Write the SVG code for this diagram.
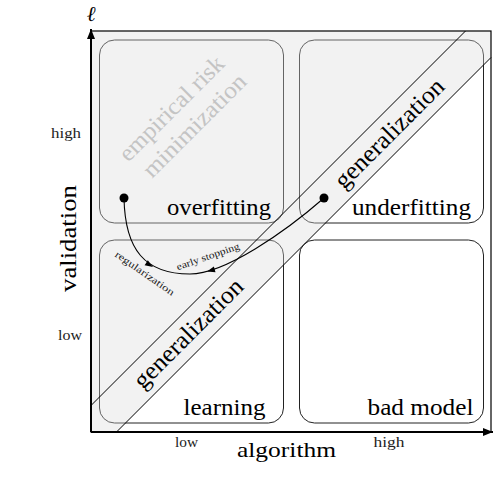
<svg xmlns="http://www.w3.org/2000/svg" xmlns:xlink="http://www.w3.org/1999/xlink" width="502" height="495" viewBox="0 0 502 495">
<style>
.box{fill:none;stroke:#222;stroke-width:1}
.lbl{font-family:"Liberation Serif","DejaVu Serif",serif;fill:#000}
.big{font-size:23px}
.gen{font-size:25px}
.erm{font-size:24px;fill:#c4c4c4}
.tick{font-size:14px;fill:#222}
.small{font-size:10px;fill:#222}
.diag{stroke:#000;stroke-width:1}
.curve{fill:none;stroke:#000;stroke-width:1.1}
</style>
<defs>
<marker id="axarrow" viewBox="0 0 10 8" refX="10" refY="4" markerWidth="10" markerHeight="8" markerUnits="userSpaceOnUse" orient="auto">
<path d="M0,0 L10,4 L0,8 Z" fill="#000"/>
</marker>
<path id="ah" d="M0,0 L-8,-3 L-8,3 Z" fill="#000"/>
</defs>
<rect x="0" y="0" width="502" height="495" fill="#fff"/>
<g id="box-overfitting"><rect class="box" x="99.5" y="40" width="184" height="183" rx="15"/></g>
<g id="box-underfitting"><rect class="box" x="299.5" y="40" width="184" height="183" rx="15"/></g>
<g id="box-learning"><rect class="box" x="99.5" y="240" width="184" height="183" rx="15"/></g>
<g id="box-badmodel"><rect class="box" x="299.5" y="240" width="184" height="183" rx="15"/></g>
<g id="shade"><polygon points="91,31 491,31 491,57.5 116.5,432 91,432" fill="#dbdbdb" fill-opacity="0.36"/></g>
<g id="frame"><rect x="91" y="31" width="400" height="401" fill="none" stroke="#000" stroke-width="1.2"/></g>
<g id="band">
<line class="diag" x1="91" y1="405.5" x2="465.5" y2="31"/>
<line class="diag" x1="116.5" y1="432" x2="491" y2="57.5"/>
</g>
<g id="axes">
<line x1="91" y1="432" x2="91" y2="29" stroke="#000" stroke-width="2" marker-end="url(#axarrow)"/>
<line x1="91" y1="432" x2="493" y2="432" stroke="#000" stroke-width="2" marker-end="url(#axarrow)"/>
</g>
<g id="connectors">
<path class="curve" d="M124,198 C125,250 145,274 190,274"/>
<path class="curve" d="M190,274 C225,274 285,232 324,198"/>
<use xlink:href="#ah" href="#ah" transform="translate(153,267) rotate(32)"/>
<use xlink:href="#ah" href="#ah" transform="translate(207,271.5) rotate(164)"/>
<circle cx="124" cy="198" r="4.5" fill="#000"/>
<circle cx="324" cy="198" r="4.5" fill="#000"/>
<text class="lbl small" transform="translate(143,276) rotate(35)" text-anchor="middle" textLength="70" lengthAdjust="spacingAndGlyphs">regularization</text>
<text class="lbl small" transform="translate(209,259.5) rotate(-19)" text-anchor="middle" textLength="66" lengthAdjust="spacingAndGlyphs">early stopping</text>
</g>
<g id="labels">
<text class="lbl erm" transform="translate(177,114) rotate(-45)" text-anchor="middle" textLength="138" lengthAdjust="spacingAndGlyphs">empirical risk</text>
<text class="lbl erm" transform="translate(200,131) rotate(-45)" text-anchor="middle" textLength="136" lengthAdjust="spacingAndGlyphs">minimization</text>
<text class="lbl big" x="271" y="215" text-anchor="end" textLength="104" lengthAdjust="spacingAndGlyphs">overfitting</text>
<text class="lbl big" x="471" y="215" text-anchor="end" textLength="119" lengthAdjust="spacingAndGlyphs">underfitting</text>
<text class="lbl big" x="265.5" y="415" text-anchor="end" textLength="82" lengthAdjust="spacingAndGlyphs">learning</text>
<text class="lbl big" x="473.5" y="415" text-anchor="end" textLength="106" lengthAdjust="spacingAndGlyphs">bad model</text>
<text class="lbl gen" transform="translate(395,139) rotate(-45)" text-anchor="middle" textLength="144" lengthAdjust="spacingAndGlyphs">generalization</text>
<text class="lbl gen" transform="translate(194,339) rotate(-45)" text-anchor="middle" textLength="144" lengthAdjust="spacingAndGlyphs">generalization</text>
</g>
<g id="axis-labels">
<text class="lbl" x="91" y="21" font-size="21" font-style="italic" font-weight="normal" text-anchor="middle">ℓ</text>
<text class="lbl" transform="translate(76,238.5) rotate(-90)" font-size="23" text-anchor="middle" textLength="107" lengthAdjust="spacingAndGlyphs">validation</text>
<text class="lbl" x="286.5" y="456.5" font-size="22" text-anchor="middle" textLength="99" lengthAdjust="spacingAndGlyphs">algorithm</text>
<text class="lbl tick" x="81" y="138" text-anchor="end" textLength="30" lengthAdjust="spacingAndGlyphs">high</text>
<text class="lbl tick" x="82" y="340" text-anchor="end" textLength="24" lengthAdjust="spacingAndGlyphs">low</text>
<text class="lbl tick" x="186.5" y="447" text-anchor="middle" textLength="23" lengthAdjust="spacingAndGlyphs">low</text>
<text class="lbl tick" x="389" y="447" text-anchor="middle" textLength="31" lengthAdjust="spacingAndGlyphs">high</text>
</g>
</svg>
